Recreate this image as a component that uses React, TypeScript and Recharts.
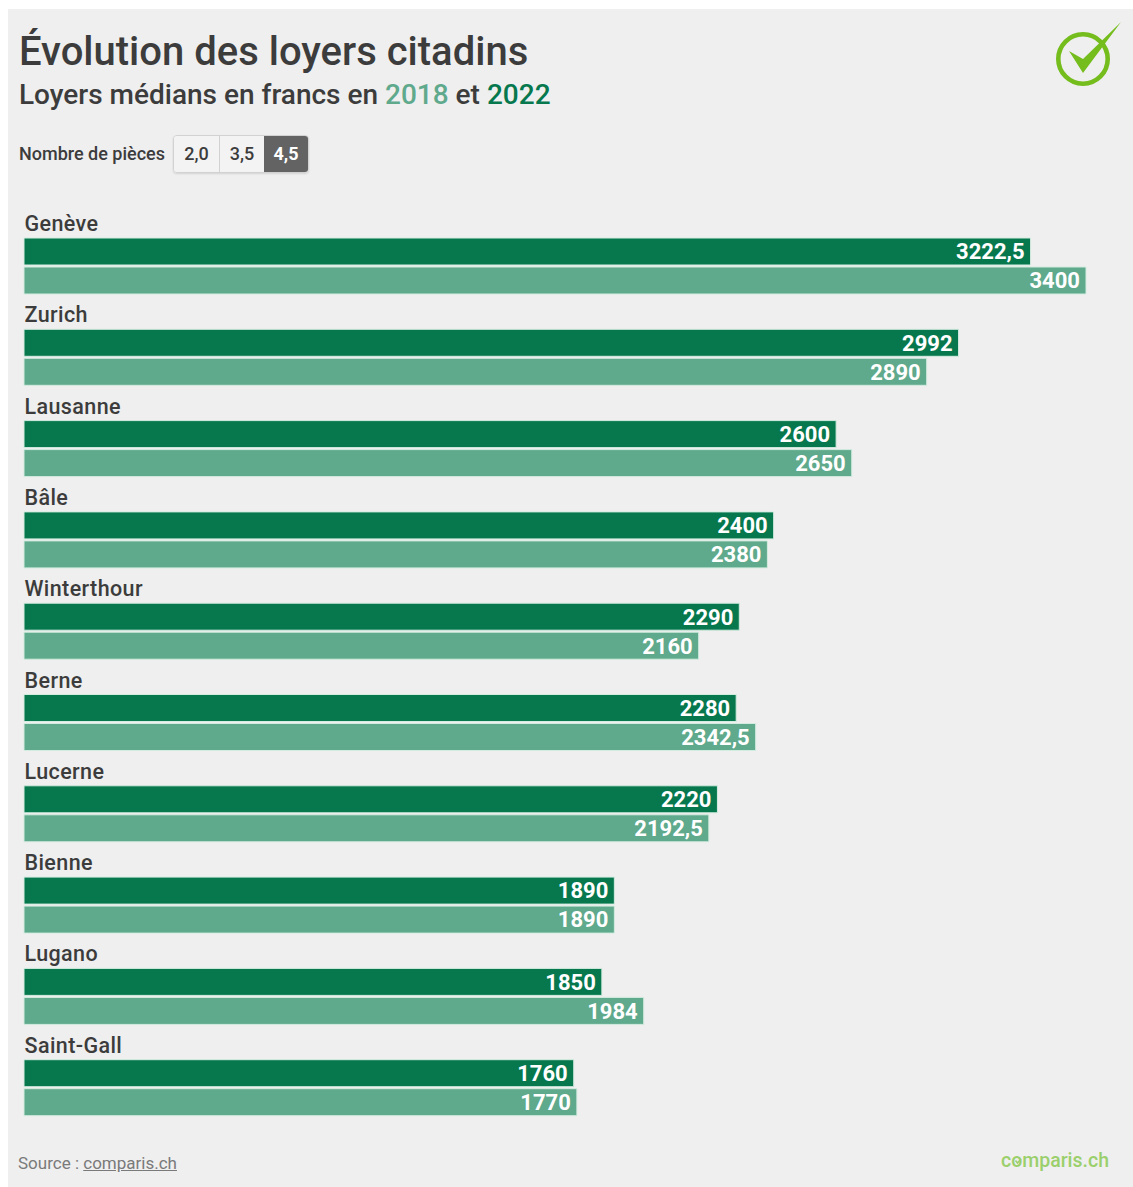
import React from 'react';
import {Bar, BarChart, LabelList, XAxis, YAxis} from 'recharts';

const cities = ['Genève', 'Zurich', 'Lausanne', 'Bâle', 'Winterthour', 'Berne', 'Lucerne', 'Bienne', 'Lugano', 'Saint-Gall'];
const rents2022 = [3222.5, 2992, 2600, 2400, 2290, 2280, 2220, 1890, 1850, 1760];
const rents2018 = [3400, 2890, 2650, 2380, 2160, 2342.5, 2192.5, 1890, 1984, 1770];
const roomOptions = ['2,0', '3,5', '4,5'];

const colors = {
    panel: '#efefef',
    dark: '#07784e',
    light: '#5fa98c',
    edge: '#d3ece0',
    text: '#3c3c3c',
    green: '#74bd1c',
    brand: '#9bcf6c',
};

const font = 'Roboto, sans-serif';
const rows = cities.map((city, i) => ({city, rent2022: rents2022[i], rent2018: rents2018[i]}));
const formatValue = (value: any) => String(value).replace('.', ',');

// city name sits just above the first bar of each group
const CityLabel = ({x, y, value}: any) => (
    <text x={x + 0.5} y={y - 7} fontFamily={font} fontSize={21.5} fontWeight={500} letterSpacing={0.4} fill={colors.text}>
        {value}
    </text>
);

const CheckLogo = () => (
    <svg width={72} height={72} style={{position: 'absolute', left: 1052, top: 20}} viewBox="0 0 72 72">
        <circle cx={31} cy={39} r={24.7} fill="none" stroke={colors.green} strokeWidth={4.6}/>
        <path d="M17 31 L31 39 L69 2 L31 53 Z" fill={colors.green}/>
    </svg>
);

export default function App() {
    return (
        <div style={{position: 'absolute', left: 0, top: 0, width: 1133, height: 1187, background: 'white', overflow: 'hidden', fontFamily: font}}>
            <div style={{position: 'absolute', left: 8, top: 9, width: 1125, height: 1178, background: colors.panel}}/>
            <div style={{position: 'absolute', left: 19, top: 28, fontSize: 40, fontWeight: 500, color: colors.text, lineHeight: '48px', whiteSpace: 'nowrap'}}>
                Évolution des loyers citadins
            </div>
            <div style={{position: 'absolute', left: 19, top: 77, fontSize: 28, fontWeight: 500, color: colors.text, lineHeight: '36px', whiteSpace: 'nowrap'}}>
                Loyers médians en francs en <span style={{color: colors.light}}>2018</span> et <span style={{color: colors.dark}}>2022</span>
            </div>
            <div style={{position: 'absolute', left: 19, top: 142, fontSize: 18, fontWeight: 500, color: colors.text, lineHeight: '24px', whiteSpace: 'nowrap'}}>
                Nombre de pièces
            </div>
            <div style={{position: 'absolute', left: 173, top: 135, display: 'flex', height: 38, boxSizing: 'border-box', border: '1px solid #d2d2d2', borderRadius: 4, boxShadow: '0 1px 2px rgba(0,0,0,0.12)', overflow: 'hidden'}}>
                {roomOptions.map((option, i) => (
                    <div key={option} style={{
                        width: i === 0 ? 45 : 44,
                        textAlign: 'center',
                        lineHeight: '36px',
                        fontSize: 18,
                        fontWeight: i === 2 ? 700 : 500,
                        color: i === 2 ? 'white' : colors.text,
                        background: i === 2 ? '#636363' : '#f3f3f3',
                        borderLeft: i === 1 ? '1px solid #d2d2d2' : 'none',
                    }}>
                        {option}
                    </div>
                ))}
            </div>
            <CheckLogo/>
            <div style={{position: 'absolute', left: 0, top: 208}}>
                <BarChart
                    width={1133}
                    height={930}
                    data={rows}
                    layout="vertical"
                    barSize={27}
                    barGap={2}
                    margin={{top: 12, right: 47, bottom: 5, left: 24}}
                >
                    <XAxis type="number" domain={[0, 3400]} hide/>
                    <YAxis type="category" dataKey="city" hide/>
                    <Bar dataKey="rent2022" fill={colors.dark} stroke={colors.edge} strokeWidth={1} isAnimationActive={false}>
                        <LabelList dataKey="city" content={<CityLabel/>}/>
                        <LabelList dataKey="rent2022" position="insideRight" offset={6} formatter={formatValue} fill="white" fontFamily={font} fontSize={22} fontWeight={700}/>
                    </Bar>
                    <Bar dataKey="rent2018" fill={colors.light} stroke={colors.edge} strokeWidth={1} isAnimationActive={false}>
                        <LabelList dataKey="rent2018" position="insideRight" offset={6} formatter={formatValue} fill="white" fontFamily={font} fontSize={22} fontWeight={700}/>
                    </Bar>
                </BarChart>
            </div>
            <div style={{position: 'absolute', left: 18, top: 1152, fontSize: 17, color: '#7a7a7a', lineHeight: '22px', whiteSpace: 'nowrap'}}>
                Source : <span style={{textDecoration: 'underline'}}>comparis.ch</span>
            </div>
            <div style={{position: 'absolute', left: 1001, top: 1148, fontSize: 19.5, fontWeight: 500, color: colors.brand, lineHeight: '26px', whiteSpace: 'nowrap'}}>
                comparis.ch
            </div>
            {/* little tick inside the "o" of the wordmark */}
            <svg width={14} height={14} style={{position: 'absolute', left: 1011, top: 1154}} viewBox="0 0 14 14">
                <path d="M4.5 6.5 L6.5 9 L10 5" fill="none" stroke={colors.brand} strokeWidth={1.5}/>
            </svg>
        </div>
    );
}
